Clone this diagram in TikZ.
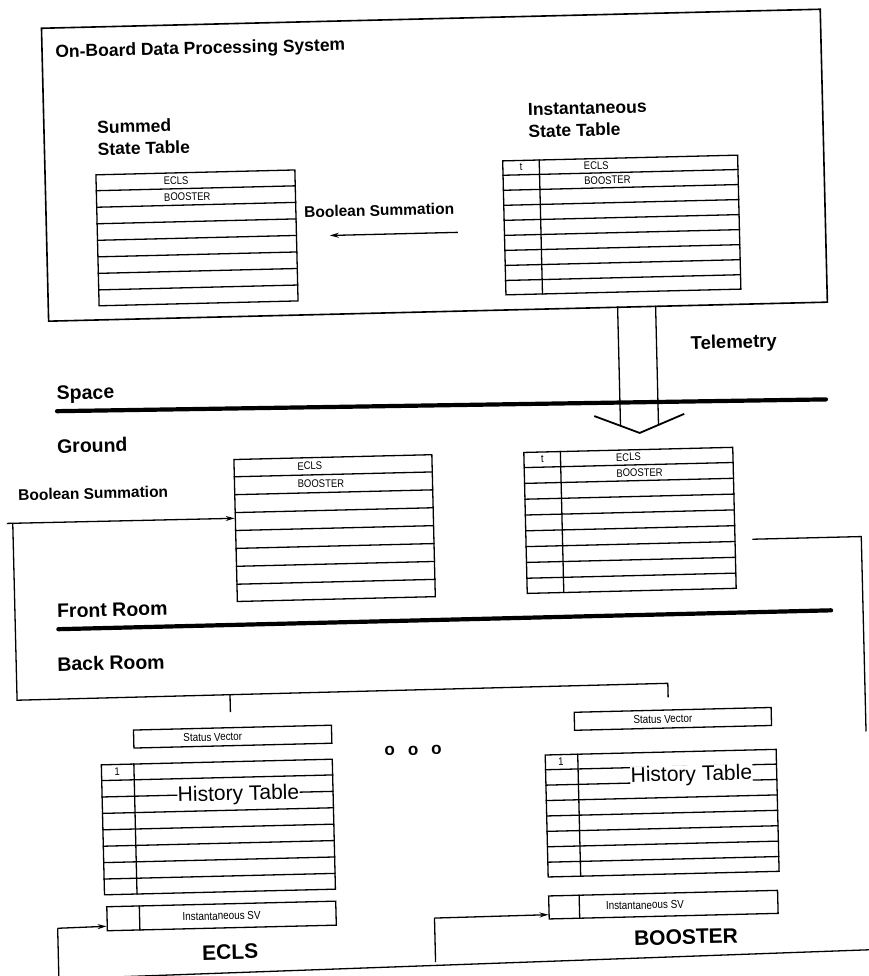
\documentclass[tikz,border=0pt]{standalone}
\usepackage{fontspec}
\setmainfont{Liberation Sans}
\newfontfamily\narrowfont[FakeStretch=0.86]{Liberation Sans}
\usetikzlibrary{calc,arrows.meta}

\tikzset{
  frame/.style={draw, line width=1.6pt, anchor=north west, inner sep=0pt},
  tbl/.style={draw, line width=1.3pt, anchor=north west, inner sep=0pt},
  rule/.style={line width=1.3pt},
  divider/.style={line width=4.2pt, line cap=round},
  wire/.style={line width=1.3pt},
  flow/.style={line width=1.3pt, -{Stealth[length=9pt,width=5pt]}},
  head/.style={font=\bfseries\fontsize{17.5}{22}\selectfont, anchor=west, inner sep=0pt, align=left},
  section/.style={font=\bfseries\fontsize{19.5}{22}\selectfont, anchor=west, inner sep=0pt},
  bsum/.style={font=\bfseries\fontsize{15.5}{17}\selectfont, inner sep=0pt},
  cell/.style={font=\narrowfont\fontsize{11}{11}\selectfont, anchor=west, inner sep=0pt},
  svtext/.style={font=\narrowfont\fontsize{11.5}{12}\selectfont, inner sep=0pt},
  hist/.style={font=\fontsize{21}{24}\selectfont, inner sep=0.5pt, fill=white},
  big/.style={font=\bfseries\fontsize{21}{24}\selectfont, inner sep=0pt},
}

% ruled table: name, x, y, width, height, rows, first column width (0 = none)
\newcommand\gridtable[7]{%
  \node[tbl, minimum width=#4pt, minimum height=#5pt] (#1) at (#2,#3) {};
  \ifnum#6>1
    \pgfmathtruncatemacro\lastrule{#6-1}%
    \foreach \k in {1,...,\lastrule}
      \draw[rule] ($(#1.north west)!\k/#6!(#1.south west)$) -- ($(#1.north east)!\k/#6!(#1.south east)$);
  \fi
  \ifdim #7pt>0pt
    \draw[rule] ($(#1.north west)!#7/#4!(#1.north east)$) -- ($(#1.south west)!#7/#4!(#1.south east)$);
  \fi
}
% text placed inside a table: [style], name, table, fraction across, fraction down, text
\newcommand\cellat[6][]{%
  \node[cell, #1] (#2) at ($ ($(#3.north west)!#4!(#3.north east)$)!#5!($(#3.south west)!#4!(#3.south east)$) $) {#6};
}

\begin{document}
\begin{tikzpicture}[x=1pt, y=-1pt]
\path[use as bounding box, fill=white] (0,0) rectangle (869,976);
\begin{scope}[rotate around={1.4:(434,488)}, transform shape]

% ---------------- on-board system ----------------
\node[frame, minimum width=779pt, minimum height=293pt] (obdp) at (52,18) {};
\node[head] (obdpT) at (66,44) {On-Board Data Processing System};
\node[head] (sumT) at (106,130) {Summed\\State Table};
\node[head] (instT) at (537,123) {Instantaneous\\State Table};

\gridtable{sumTab}{103}{166}{199}{131}{8}{0}
\cellat{sumE}{sumTab}{0.34}{0.0625}{ECLS}
\cellat{sumB}{sumTab}{0.34}{0.1875}{BOOSTER}

\gridtable{instTab}{510}{162}{235}{134}{9}{37}
\cellat[anchor=center]{instK}{instTab}{0.08}{0.056}{t}
\cellat{instE}{instTab}{0.345}{0.056}{ECLS}
\cellat{instB}{instTab}{0.345}{0.167}{BOOSTER}

\node[bsum] (bsUp) at (386,209) {Boolean Summation};
\coordinate (bsFrom) at (464,233);
\coordinate (bsTo) at (336,233);
\draw[flow] (bsFrom) -- (bsTo);

% ---------------- telemetry down-link ----------------
\coordinate (telA1) at (622,311);
\coordinate (telA2) at (622,430);
\coordinate (telB1) at (660,311);
\coordinate (telB2) at (660,430);
\coordinate (chevL) at (596,420);
\coordinate (chevM) at (641,438);
\coordinate (chevR) at (686,420);
\draw[wire] (telA1) -- (telA2);
\draw[wire] (telB1) -- (telB2);
\draw[wire, line width=1.8pt] (chevL) -- (chevM) -- (chevR);
\node[head, font=\bfseries\fontsize{18.5}{22}\selectfont] (telT) at (694,351) {Telemetry};

% ---------------- space / ground ----------------
\node[section] (spaceT) at (59,386) {Space};
\coordinate (spaceL) at (59,402);
\coordinate (spaceR) at (828,409);
\draw[divider] (spaceL) -- (spaceR);
\node[section] (groundT) at (58,437) {Ground};

\gridtable{gSum}{234}{454}{198}{142}{8}{0}
\cellat{gSumE}{gSum}{0.32}{0.0625}{ECLS}
\cellat{gSumB}{gSum}{0.32}{0.1875}{BOOSTER}

\gridtable{gInst}{524}{454}{209}{141}{9}{37}
\cellat[anchor=center]{gInstK}{gInst}{0.09}{0.056}{t}
\cellat{gInstE}{gInst}{0.44}{0.056}{ECLS}
\cellat{gInstB}{gInst}{0.44}{0.167}{BOOSTER}

\node[bsum, anchor=west] (bsLow) at (18,485) {Boolean Summation};
\coordinate (gSumIn) at ($(gSum.north west)!0.415!(gSum.south west)$);
\coordinate (busStart) at (6,513);
\coordinate (busUp) at (12,513);
\coordinate (busL) at (12,690);
\coordinate (busR) at (663,689);
\coordinate (boosterTap) at (663,703);
\coordinate (eclsBus) at (225,690);
\coordinate (eclsTap) at (225,707);
\draw[flow] (busStart) -- (gSumIn);
\draw[wire] (boosterTap) -- (busR) -- (busL) -- (busUp);
\draw[wire] (eclsBus) -- (eclsTap);

\coordinate (gOut) at (751,547);
\coordinate (edgeTop) at (860,547);
\coordinate (edgeDown) at (860,742);
\draw[wire] (gOut) -- (edgeTop) -- (edgeDown);

% ---------------- front room / back room ----------------
\node[section] (frontT) at (54,602) {Front Room};
\coordinate (frontL) at (55,620);
\coordinate (frontR) at (828,620);
\draw[divider] (frontL) -- (frontR);
\node[section] (backT) at (53,655) {Back Room};

\node[head, font=\bfseries\fontsize{17}{18}\selectfont] (dots) at (378,750) {o\hspace{13pt}o\hspace{13pt}o};

% ECLS subsystem
\node[tbl, minimum width=198pt, minimum height=18pt] (svE) at (127,722) {};
\cellat[svtext, anchor=center]{svET}{svE}{0.4}{0.5}{Status Vector}
\gridtable{histE}{94}{756}{231}{130}{8}{33}
\cellat[anchor=center]{histEK}{histE}{0.07}{0.0625}{1}
\cellat[hist, anchor=center]{histET}{histE}{0.59}{0.26}{History Table}
\gridtable{isvE}{96}{898}{229}{24}{1}{33}
\cellat[svtext, anchor=center]{isvET}{isvE}{0.5}{0.5}{Instantaneous SV}
\coordinate (eFeedB) at (47,990);
\coordinate (eFeed) at (47,919);
\coordinate (eIn) at ($(isvE.north west)!0.8!(isvE.south west)$);
\draw[wire] (eFeedB) -- (eFeed);
\draw[flow] (eFeed) -- (eIn);
\node[big] (eclsT) at (219,947) {ECLS};

% BOOSTER subsystem
\node[tbl, minimum width=197pt, minimum height=18pt] (svB) at (568,715) {};
\cellat[svtext, anchor=center]{svBT}{svB}{0.45}{0.5}{Status Vector}
\gridtable{histB}{538}{757}{231}{122}{8}{33}
\cellat[anchor=center]{histBK}{histB}{0.07}{0.0625}{1}
\cellat[hist, anchor=center]{histBT}{histB}{0.63}{0.2}{History Table}
\gridtable{isvB}{538}{898}{229}{23}{1}{31}
\cellat[svtext, anchor=center]{isvBT}{isvB}{0.42}{0.5}{Instantaneous SV}
\coordinate (bFeedB) at (424,962);
\coordinate (bFeed) at (424,918);
\coordinate (bIn) at ($(isvB.north west)!0.8!(isvB.south west)$);
\draw[wire] (bFeedB) -- (bFeed);
\draw[flow] (bFeed) -- (bIn);
\node[big] (boosterT) at (675,943) {BOOSTER};

\coordinate (baseL) at (111,969);
\coordinate (baseR) at (885,960);
\draw[wire] (baseL) -- (baseR);

\end{scope}
\end{tikzpicture}
\end{document}
